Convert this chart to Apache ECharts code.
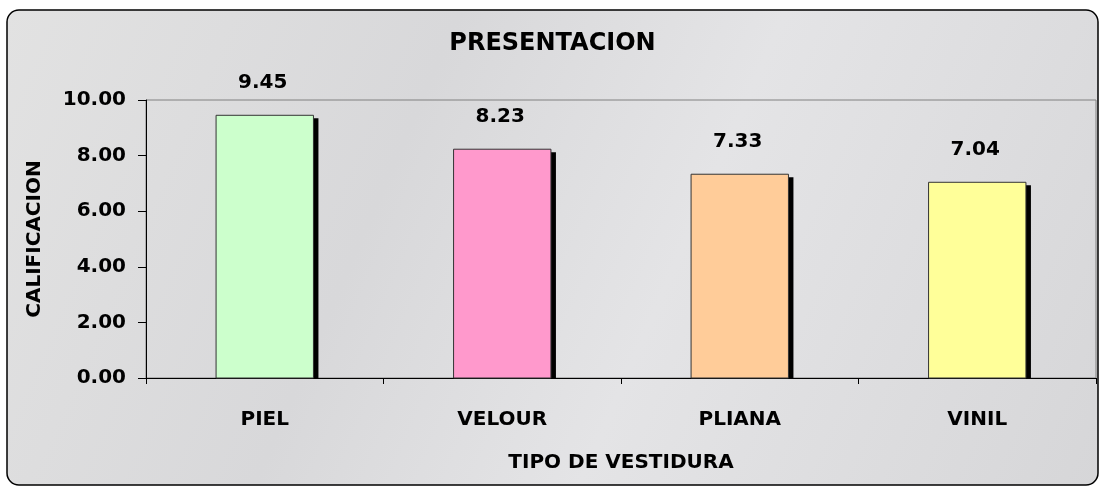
<!DOCTYPE html>
<html>
<head>
<meta charset="utf-8">
<script src="https://cdn.jsdelivr.net/npm/echarts@6/dist/echarts.min.js"></script>
<style>
  html, body { margin: 0; padding: 0; background: #fff; }
  #main { width: 1105px; height: 487px; }
</style>
</head>
<body>
<div id="main"></div>
<script>
// datos de la grafica
var categorias = ['PIEL', 'VELOUR', 'PLIANA', 'VINIL']
var valores = [9.45, 8.23, 7.33, 7.04]
var colores = ['#CCFFCC', '#FF99CC', '#FFCC99', '#FFFF99']
var ticksY = [0, 2, 4, 6, 8, 10]

var fuente = '"DejaVu Sans", sans-serif'
var myChart = echarts.init(document.getElementById('main'))

// barra con sombra negra desplazada (estilo excel)
function dibujarBarra (params, api) {
  var idx = api.value(0)
  var val = api.value(1)
  var tope = api.coord([idx, val])
  var base = api.coord([idx, 0])
  var ancho = api.size([1, 0])[0] * 0.41
  var x = tope[0] - ancho / 2
  var alto = base[1] - tope[1]
  return {
    type: 'group',
    children: [
      {
        type: 'rect',
        shape: { x: x + 5, y: tope[1] + 3, width: ancho, height: alto - 3 },
        style: { fill: '#000' }
      },
      {
        type: 'rect',
        shape: { x: x, y: tope[1], width: ancho, height: alto },
        style: { fill: colores[idx], stroke: '#333', lineWidth: 1 }
      },
      {
        type: 'text',
        x: tope[0] - 2,
        y: tope[1] - 22,
        style: {
          text: val.toFixed(2),
          align: 'center',
          verticalAlign: 'bottom',
          fontFamily: fuente,
          fontWeight: 'bold',
          fontSize: 20,
          fill: '#000'
        }
      }
    ]
  }
}

var option = {
  backgroundColor: '#ffffff',
  animation: false,
  graphic: [{
    type: 'rect',
    z: -10,
    silent: true,
    shape: { x: 7, y: 10, width: 1091, height: 475, r: 12 },
    style: {
      fill: new echarts.graphic.LinearGradient(0, 0, 1, 1, [
        { offset: 0, color: '#e2e2e2' },
        { offset: 0.35, color: '#d8d8da' },
        { offset: 0.6, color: '#e4e4e6' },
        { offset: 1, color: '#d6d6d8' }
      ]),
      stroke: '#000',
      lineWidth: 1.5
    }
  }],
  title: {
    text: 'PRESENTACION',
    left: 'center',
    top: 27,
    textStyle: { fontFamily: fuente, fontWeight: 'bold', fontSize: 24, color: '#000' }
  },
  grid: {
    left: 146,
    right: 9,
    top: 100,
    bottom: 109,
    show: true,
    borderColor: '#808080',
    borderWidth: 1,
    backgroundColor: 'transparent'
  },
  xAxis: {
    type: 'category',
    data: categorias,
    name: 'TIPO DE VESTIDURA',
    nameLocation: 'middle',
    nameGap: 75,
    nameTextStyle: { fontFamily: fuente, fontWeight: 'bold', fontSize: 20, color: '#000' },
    axisLine: { lineStyle: { color: '#000', width: 1 } },
    axisTick: { show: true, length: 6, alignWithLabel: false, lineStyle: { color: '#000' } },
    axisLabel: { margin: 32, fontFamily: fuente, fontWeight: 'bold', fontSize: 20, color: '#000' }
  },
  yAxis: {
    type: 'value',
    min: ticksY[0],
    max: ticksY[ticksY.length - 1],
    interval: 2,
    name: 'CALIFICACION',
    nameLocation: 'middle',
    nameGap: 101,
    nameRotate: 90,
    nameTextStyle: { fontFamily: fuente, fontWeight: 'bold', fontSize: 20, color: '#000' },
    axisLine: { show: true, lineStyle: { color: '#000', width: 1 } },
    axisTick: { show: true, length: 8, lineStyle: { color: '#000' } },
    splitLine: { show: false },
    axisLabel: {
      margin: 20,
      fontFamily: fuente,
      fontWeight: 'bold',
      fontSize: 20,
      color: '#000',
      formatter: function (v) { return v.toFixed(2) }
    }
  },
  series: [{
    type: 'custom',
    renderItem: dibujarBarra,
    encode: { x: 0, y: 1 },
    data: valores.map(function (v, i) { return [i, v] })
  }]
}
myChart.setOption(option)
</script>
</body>
</html>
